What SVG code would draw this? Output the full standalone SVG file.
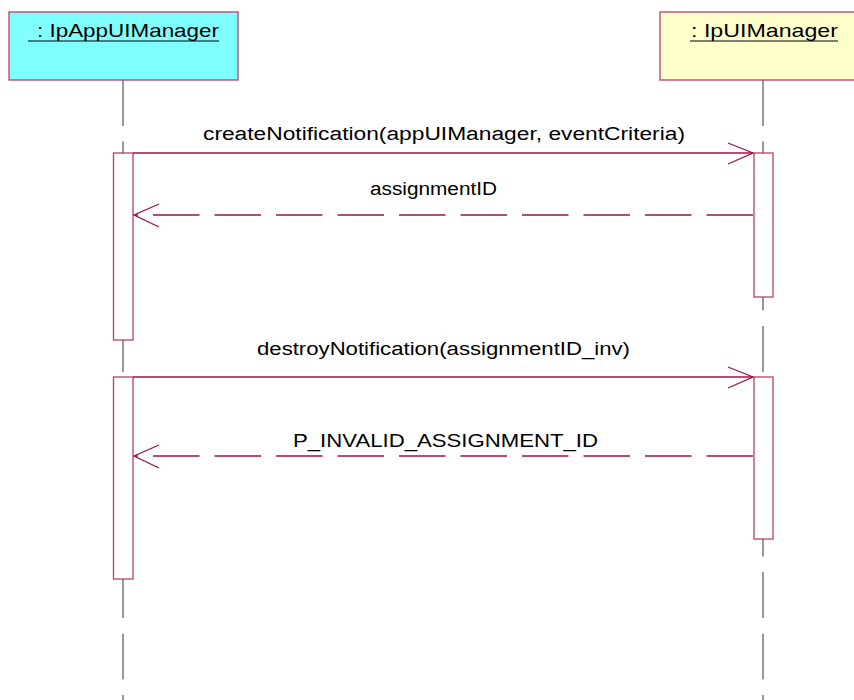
<svg xmlns="http://www.w3.org/2000/svg" width="854" height="700" viewBox="0 0 854 700">
<style>
.lbl{font-family:"Liberation Sans",Arial,sans-serif;font-size:18px;fill:#000}
.hdr{font-family:"Liberation Sans",Arial,sans-serif;font-size:19px;fill:#000}
.box{stroke:#B8406A;stroke-width:1.3}
.life{stroke:#333;stroke-width:1;stroke-dasharray:46 15.5;fill:none}
.act{fill:#fff;stroke:#B8406A;stroke-width:1.3}
.msg{stroke:#A0104A;stroke-width:1.3;fill:none}
.ret{stroke:#A0104A;stroke-width:1.3;fill:none;stroke-dasharray:46.5 15}
.uline{stroke:#000;stroke-width:1.2}
</style>
<rect width="854" height="700" fill="#fff"/>
<g id="lifelines">
<line class="life" x1="123" y1="80" x2="123" y2="700"/>
<line class="life" x1="763" y1="80" x2="763" y2="700"/>
</g>
<g id="IpAppUIManager">
<rect class="box" x="9" y="12" width="229" height="68" fill="#80FFFF"/>
<text class="hdr" x="37" y="37" textLength="182" lengthAdjust="spacingAndGlyphs">: IpAppUIManager</text>
<line class="uline" x1="28" y1="41" x2="219" y2="41"/>
</g>
<g id="IpUIManager">
<rect class="box" x="660" y="12" width="200" height="68" fill="#FFFFCC"/>
<text class="hdr" x="691" y="37" textLength="147" lengthAdjust="spacingAndGlyphs">: IpUIManager</text>
<line class="uline" x1="690" y1="41" x2="838" y2="41"/>
</g>
<g id="activations">
<rect class="act" x="113.5" y="153" width="19.5" height="187"/>
<rect class="act" x="754" y="153" width="19" height="144"/>
<rect class="act" x="113.5" y="377" width="19.5" height="202"/>
<rect class="act" x="754" y="377" width="19" height="162"/>
</g>
<g id="connectors">
<line class="msg" x1="133" y1="153" x2="753" y2="153"/>
<polyline class="msg" points="728,143 753,153 728,164"/>
<line class="ret" x1="753" y1="215" x2="135" y2="215"/>
<polyline class="msg" points="159,204 134,215 159,227"/>
<line class="msg" x1="133" y1="377" x2="753" y2="377"/>
<polyline class="msg" points="728,367 753,377 728,388"/>
<line class="ret" x1="753" y1="456" x2="135" y2="456"/>
<polyline class="msg" points="159,445 134,456 159,468"/>
</g>
<g id="labels">
<text class="lbl" x="203" y="140" textLength="482" lengthAdjust="spacingAndGlyphs">createNotification(appUIManager, eventCriteria)</text>
<text class="lbl" x="370" y="195" textLength="127" lengthAdjust="spacingAndGlyphs">assignmentID</text>
<text class="lbl" x="257" y="355" textLength="373" lengthAdjust="spacingAndGlyphs">destroyNotification(assignmentID_inv)</text>
<text class="lbl" x="293" y="447" textLength="305" lengthAdjust="spacingAndGlyphs">P_INVALID_ASSIGNMENT_ID</text>
</g>
</svg>
